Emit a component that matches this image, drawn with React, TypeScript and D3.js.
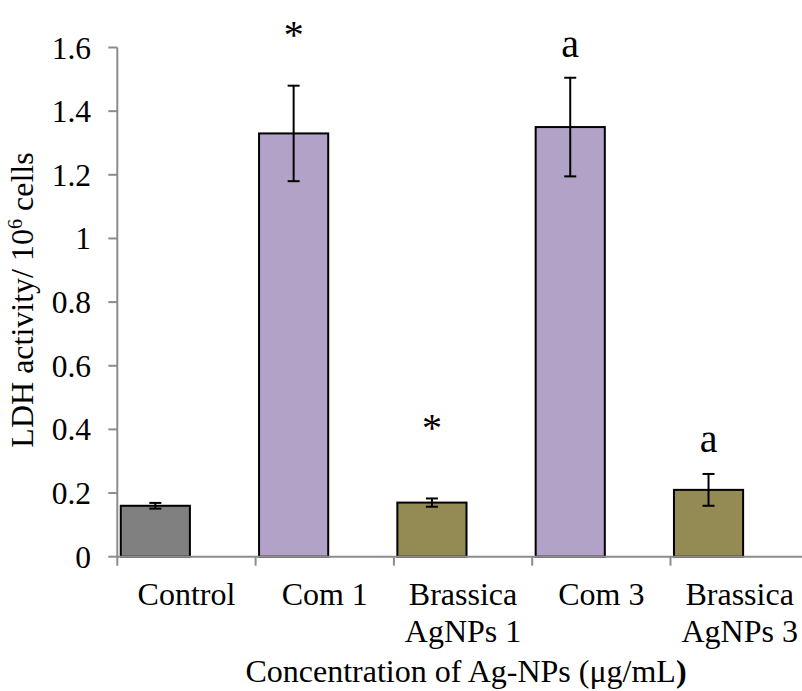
import React from "react";
import * as d3 from "d3";

const categories = ["Control", "Com 1", "Brassica AgNPs 1", "Com 3", "Brassica AgNPs 3"];
const labelLines = [["Control"], ["Com 1"], ["Brassica", "AgNPs 1"], ["Com 3"], ["Brassica", "AgNPs 3"]];
const values = [0.16, 1.33, 0.17, 1.35, 0.21];
const errors = [0.009, 0.15, 0.013, 0.155, 0.05];
const colors = ["#808080", "#b3a2c7", "#948a54", "#b3a2c7", "#948a54"];
const marks = ["", "*", "*", "a", "a"];
const markY = [0, 1.6, 0.365, 1.57, 0.33];
const yTicks = [0, 0.2, 0.4, 0.6, 0.8, 1, 1.2, 1.4, 1.6];

const W = 802;
const H = 691;
const FONT = "'Liberation Serif', 'Times New Roman', serif";

export default function App() {
  const left = 117.3;
  const step = 138.3;
  const x = d3.scaleBand<string>().domain(categories).range([left, left + step * categories.length]).padding(0);
  const y = d3.scaleLinear().domain([0, 1.6]).range([556.7, 47.5]);
  const bw = x.bandwidth();
  const barOff = bw * 0.025;
  const barW = bw * 0.5;
  const axisColor = "#8c8c8c";
  const fmt = (v: number) => (v === 0 || v === 1 ? String(v) : d3.format(".1f")(v));

  return (
    <div style={{ position: "absolute", left: 0, top: 0 }}>
      <svg width={W} height={H} style={{ display: "block", background: "#fff" }} fontFamily={FONT}>
        {/* bars */}
        {categories.map((c, i) => (
          <rect
            key={c}
            x={(x(c) as number) + barOff}
            y={y(values[i])}
            width={barW}
            height={y(0) - y(values[i])}
            fill={colors[i]}
            stroke="#000"
            strokeWidth={2}
          />
        ))}
        {/* axes */}
        <line x1={left} x2={left} y1={y(1.6)} y2={y(0) + 9} stroke={axisColor} strokeWidth={2} />
        {yTicks.map((t) => (
          <g key={t}>
            <line x1={left - 9} x2={left} y1={y(t)} y2={y(t)} stroke={axisColor} strokeWidth={2} />
            <text x={91} y={y(t)} dy="0.35em" textAnchor="end" fontSize={31.5} fill="#000">
              {fmt(t)}
            </text>
          </g>
        ))}
        <line x1={left} x2={W} y1={y(0)} y2={y(0)} stroke={axisColor} strokeWidth={2} />
        {categories.map((c, i) =>
          i === 0 ? null : (
            <line key={c} x1={x(c) as number} x2={x(c) as number} y1={y(0)} y2={y(0) + 9} stroke={axisColor} strokeWidth={2} />
          )
        )}
        {/* error bars */}
        {categories.map((c, i) => {
          const cx = (x(c) as number) + barOff + barW / 2;
          const t = y(values[i] + errors[i]);
          const b = y(values[i] - errors[i]);
          return (
            <g key={c} stroke="#000" strokeWidth={2}>
              <line x1={cx} x2={cx} y1={t} y2={b} />
              <line x1={cx - 6} x2={cx + 6} y1={t} y2={t} />
              <line x1={cx - 6} x2={cx + 6} y1={b} y2={b} />
            </g>
          );
        })}
        {/* annotations */}
        {categories.map((c, i) =>
          marks[i] ? (
            <text key={c} x={(x(c) as number) + barOff + barW / 2} y={y(markY[i])} textAnchor="middle" fontSize={40} fill="#000">
              {marks[i]}
            </text>
          ) : null
        )}
        {/* category labels */}
        {categories.map((c, i) => (
          <text key={c} textAnchor="middle" fontSize={32} fill="#000">
            {labelLines[i].map((ln, j) => (
              <tspan key={j} x={(x(c) as number) + bw / 2} y={605 + j * 37}>
                {ln}
              </tspan>
            ))}
          </text>
        ))}
        {/* axis titles */}
        <text x={466} y={682} textAnchor="middle" fontSize={32} fill="#000">
          Concentration of Ag-NPs (μg/mL<tspan fontWeight="bold">)</tspan>
        </text>
        <text transform="translate(33,300) rotate(-90)" textAnchor="middle" fontSize={32} fill="#000">
          LDH activity/ 10<tspan baselineShift="super" fontSize={20}>6</tspan> cells
        </text>
      </svg>
    </div>
  );
}
